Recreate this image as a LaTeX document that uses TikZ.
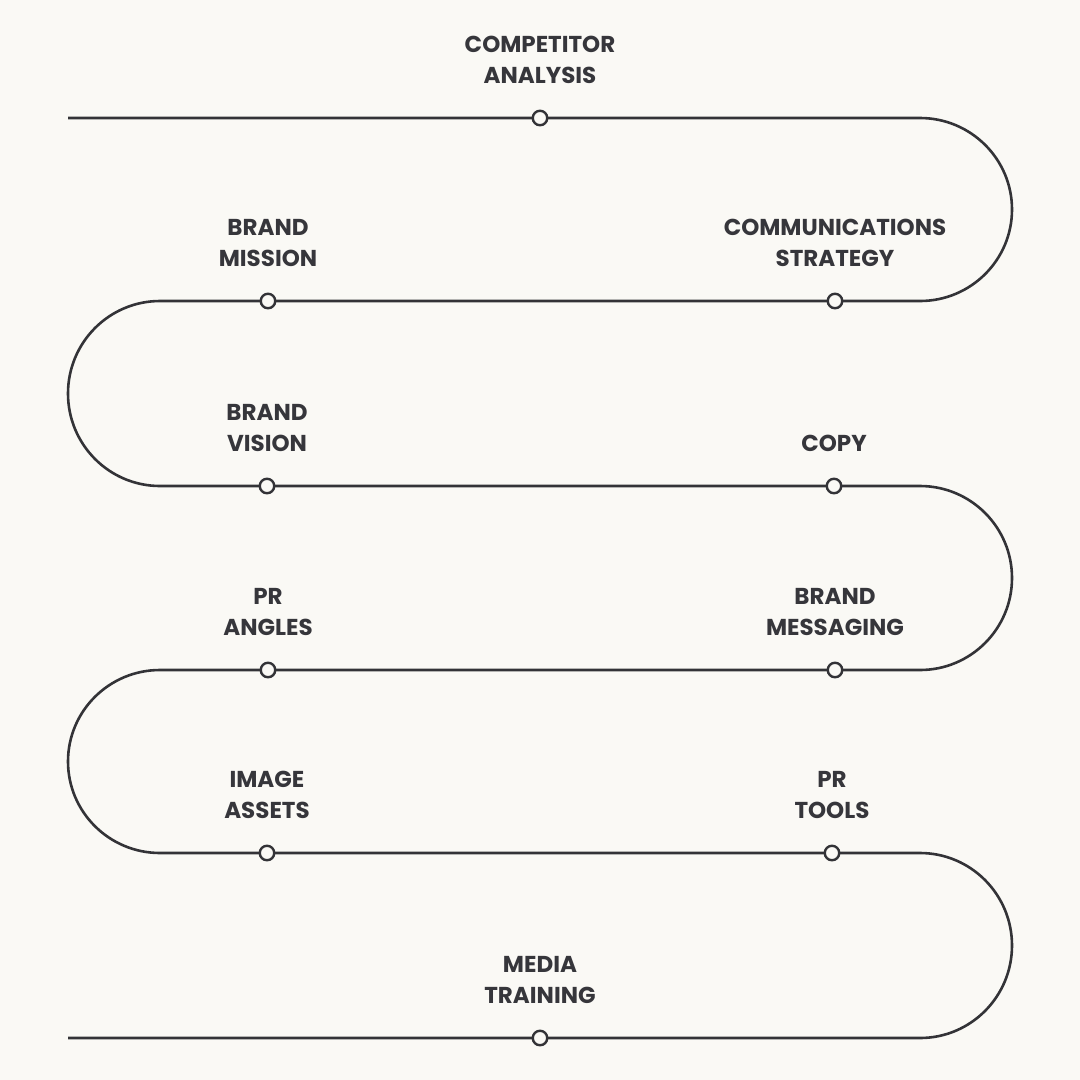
\documentclass[tikz,border=0pt]{standalone}
\usepackage{fontspec}
\setmainfont{Poppins}
\usetikzlibrary{calc}
\definecolor{bgc}{HTML}{FAF9F5}
\definecolor{linec}{HTML}{333337}
\definecolor{textc}{HTML}{36363B}
\tikzset{
  road/.style={draw=linec, line width=2.6pt},
  dot/.style={circle, draw=linec, fill=bgc, line width=2.4pt, minimum size=14.5pt, inner sep=0pt},
  lab/.style={anchor=south, inner sep=0pt, align=center, text=textc, font=\fontsize{23}{31}\selectfont\bfseries}
}
\begin{document}
\begin{tikzpicture}[x=1pt,y=-1pt]
\fill[bgc] (0,0) rectangle (1080,1080);
\useasboundingbox (0,0) rectangle (1080,1080);
% coordinates of the road
\coordinate (s) at (68,118);
\coordinate (r1a) at (920,118);
\coordinate (r1b) at (920,301);
\coordinate (l1a) at (160,301);
\coordinate (l1b) at (160,486);
\coordinate (r2a) at (920,486);
\coordinate (r2b) at (920,670);
\coordinate (l2a) at (160,670);
\coordinate (l2b) at (160,853);
\coordinate (r3a) at (920,853);
\coordinate (r3b) at (920,1038);
\coordinate (e) at (68,1038);
% dots
\coordinate (p1) at (540,118);
\coordinate (p2) at (835,301);
\coordinate (p3) at (268,301);
\coordinate (p4) at (267,486);
\coordinate (p5) at (834,486);
\coordinate (p6) at (835,670);
\coordinate (p7) at (268,670);
\coordinate (p8) at (267,853);
\coordinate (p9) at (832,853);
\coordinate (p10) at (540,1038);
\draw[road] (s) -- (p1) -- (r1a)
  .. controls (970.8,118) and (1012,159) .. (1012,209.5)
  .. controls (1012,260) and (970.8,301) .. (r1b)
  -- (p2) -- (p3) -- (l1a)
  .. controls (109.2,301) and (68,342.4) .. (68,393.5)
  .. controls (68,444.6) and (109.2,486) .. (l1b)
  -- (p4) -- (p5) -- (r2a)
  .. controls (970.8,486) and (1012,527.2) .. (1012,578)
  .. controls (1012,628.8) and (970.8,670) .. (r2b)
  -- (p6) -- (p7) -- (l2a)
  .. controls (109.2,670) and (68,711) .. (68,761.5)
  .. controls (68,812) and (109.2,853) .. (l2b)
  -- (p8) -- (p9) -- (r3a)
  .. controls (970.8,853) and (1012,894.4) .. (1012,945.5)
  .. controls (1012,996.6) and (970.8,1038) .. (r3b)
  -- (p10) -- (e);
\foreach \i in {1,...,10} {\node[dot] (d\i) at (p\i) {};}
\node[lab] (t1) at ($(d1)+(0,-34)$) {COMPETITOR\\ANALYSIS};
\node[lab] (t2) at ($(d2)+(0,-34)$) {COMMUNICATIONS\\STRATEGY};
\node[lab] (t3) at ($(d3)+(0,-34)$) {BRAND\\MISSION};
\node[lab] (t4) at ($(d4)+(0,-34)$) {BRAND\\VISION};
\node[lab] (t5) at ($(d5)+(0,-34)$) {COPY};
\node[lab] (t6) at ($(d6)+(0,-34)$) {BRAND\\MESSAGING};
\node[lab] (t7) at ($(d7)+(0,-34)$) {PR\\ANGLES};
\node[lab] (t8) at ($(d8)+(0,-34)$) {IMAGE\\ASSETS};
\node[lab] (t9) at ($(d9)+(0,-34)$) {PR\\TOOLS};
\node[lab] (t10) at ($(d10)+(0,-34)$) {MEDIA\\TRAINING};
\end{tikzpicture}
\end{document}
